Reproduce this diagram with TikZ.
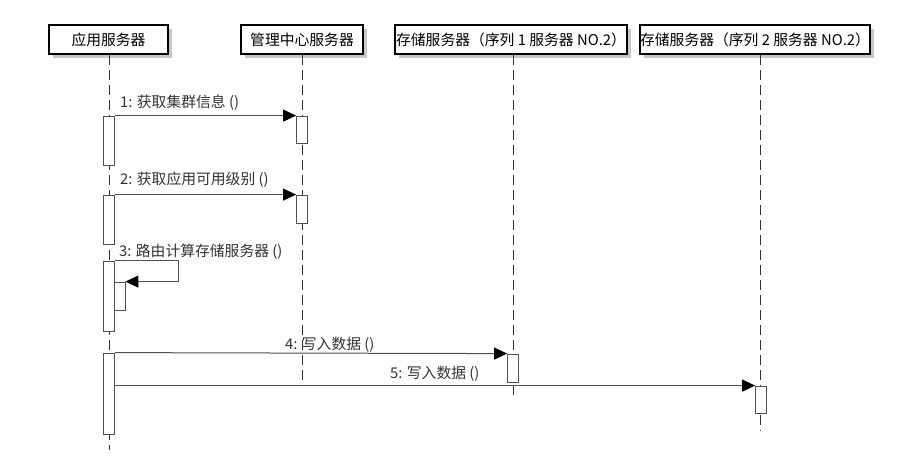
\documentclass[tikz,border=0pt]{standalone}
\usepackage{fontspec}
\setmainfont{Noto Sans CJK SC}
\usetikzlibrary{arrows.meta,shadows}
\definecolor{wire}{HTML}{505050}
\definecolor{ink}{HTML}{333333}

\begin{document}
\begin{tikzpicture}[x=1pt,y=-1pt,>={Triangle[length=13pt,width=12pt,color=black]},
  head/.style={rectangle,draw=black,line width=1.8pt,fill=white,minimum height=29pt,inner sep=0pt,
    drop shadow={shadow xshift=4pt,shadow yshift=-4pt,fill=black!22,opacity=1}},
  life/.style={draw=ink,line width=1pt,dash pattern=on 10pt off 5pt},
  act/.style={rectangle,draw=wire,fill=white,line width=0.8pt,minimum width=11pt,inner sep=0pt},
  msg/.style={->,draw=wire,line width=1pt},
  lbl/.style={anchor=west,text=ink,inner sep=0pt},
  every node/.style={font=\fontsize{14.8}{17}\selectfont}]
\useasboundingbox (0,0) rectangle (897,466);
% lifeline heads
\node[head,minimum width=119pt] (app) at (108.5,39.5) {应用服务器};
\node[head,minimum width=122pt] (mgr) at (302,39.5) {管理中心服务器};
\node[head,minimum width=232pt] (st1) at (511,39.5) {存储服务器（序列 1 服务器 NO.2）};
\node[head,minimum width=226pt] (st2) at (755,39.5) {存储服务器（序列 2 服务器 NO.2）};
\foreach \n/\x/\y in {app/109/450,mgr/302/384,st1/513/397,st2/760/430}{
  \coordinate (\n-end) at (\x,\y);
  \draw[life] (\n-end |- \n.south) -- (\n-end);}
% activations
\foreach \n/\x/\y/\h in {a1/109/140.5/49,a2/109/219.5/49,a3/109/296/70,a4/109/393.5/81,
  b1/302/129.5/27,b2/302/209/28,c1/513/368/28,d1/761/399.5/27}{
  \node[act,minimum height=\h] (\n) at (\x,\y) {};}
\node[act,minimum height=28] (a3n) at (119.5,296) {};
% messages
\draw[msg] (a1.north east) -- (b1.north west);
\draw[msg] (a2.north east) -- (b2.north west);
\draw[msg] (a3.north east) -- ++(64,0) |- (a3n.north east);
\draw[msg] (a4.north east) -- (c1.north west);
\draw[msg] (a4.east |- d1.north) -- (d1.north west);
\node[lbl] (m1) at (120,103) {1: 获取集群信息 ()};
\node[lbl] (m2) at (120,180) {2: 获取应用可用级别 ()};
\node[lbl] (m3) at (119,252) {3: 路由计算存储服务器 ()};
\node[lbl] (m4) at (285,345) {4: 写入数据 ()};
\node[lbl] (m5) at (390,374) {5: 写入数据 ()};
\end{tikzpicture}
\end{document}
